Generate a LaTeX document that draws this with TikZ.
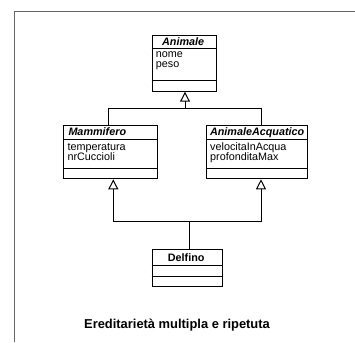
\documentclass[tikz,border=0pt]{standalone}
\usepackage{fontspec}
\setmainfont{Liberation Sans}
\usetikzlibrary{arrows.meta,calc}
\begin{document}
\begin{tikzpicture}[x=1pt,y=-1pt,
  cls/.style={draw,line width=1pt,inner sep=0pt,anchor=north west},
  clsname/.style={anchor=base,inner sep=0pt,font=\fontsize{10.8}{12}\selectfont\bfseries\itshape},
  clsplain/.style={anchor=base,inner sep=0pt,font=\fontsize{10.8}{12}\selectfont\bfseries},
  attr/.style={anchor=base west,inner sep=0pt,font=\fontsize{10.8}{12}\selectfont},
  div/.style={line width=1pt},
  conn/.style={line width=1pt},
  inh/.style={conn,-{Triangle[open,length=10pt,width=10pt]}},
  frame/.style={line width=1.3pt,draw=black!60}]
\useasboundingbox (0,0) rectangle (355,342);
% frame (only left and top visible)
\coordinate (fr-bl) at (14.7,342);
\coordinate (fr-tl) at (14.7,11.5);
\coordinate (fr-tr) at (355,11.5);
\draw[frame] (fr-bl) -- (fr-tl) -- (fr-tr);

% Animale
\node[cls,minimum width=64pt,minimum height=55.7pt] (animale) at (151.7,35) {};
\draw[div] ($(animale.north west)+(0,13.5)$) -- ($(animale.north east)+(0,13.5)$);
\draw[div] ($(animale.north west)+(0,45.7)$) -- ($(animale.north east)+(0,45.7)$);
\node[clsname] (animale-n) at ($(animale.north)+(-1,10.6)$) {Animale};
\node[attr] (animale-a1) at ($(animale.north west)+(4,22.5)$) {nome};
\node[attr] (animale-a2) at ($(animale.north west)+(4,32.5)$) {peso};

% Mammifero
\node[cls,minimum width=93.4pt,minimum height=53.8pt] (mamm) at (63.3,124.5) {};
\draw[div] ($(mamm.north west)+(0,14.5)$) -- ($(mamm.north east)+(0,14.5)$);
\draw[div] ($(mamm.north west)+(0,43.8)$) -- ($(mamm.north east)+(0,43.8)$);
\node[clsname,anchor=base west] (mamm-n) at ($(mamm.north west)+(5,11)$) {Mammifero};
\node[attr] (mamm-a1) at ($(mamm.north west)+(4,25.5)$) {temperatura};
\node[attr] (mamm-a2) at ($(mamm.north west)+(4,35.8)$) {nrCuccioli};

% AnimaleAcquatico
\node[cls,minimum width=101.3pt,minimum height=53.8pt] (aa) at (206,124.5) {};
\draw[div] ($(aa.north west)+(0,14.5)$) -- ($(aa.north east)+(0,14.5)$);
\draw[div] ($(aa.north west)+(0,43.8)$) -- ($(aa.north east)+(0,43.8)$);
\node[clsname] (aa-n) at ($(aa.north)+(0,11)$) {AnimaleAcquatico};
\node[attr] (aa-a1) at ($(aa.north west)+(4,25.5)$) {velocitaInAcqua};
\node[attr] (aa-a2) at ($(aa.north west)+(4,35.8)$) {profonditaMax};

% Delfino
\node[cls,minimum width=70pt,minimum height=36.7pt] (delfino) at (151.7,249.3) {};
\draw[div] ($(delfino.north west)+(0,16.2)$) -- ($(delfino.north east)+(0,16.2)$);
\draw[div] ($(delfino.north west)+(0,27.2)$) -- ($(delfino.north east)+(0,27.2)$);
\node[clsplain] (delfino-n) at ($(delfino.north)+(-1,11.8)$) {Delfino};

% connectors
\coordinate (xm) at (108,0);
\coordinate (xa) at (261,0);
\coordinate (xd) at (189.5,0);
\coordinate (bus1) at (185,108.3);
\coordinate (bus2l) at (113.3,221.7);
\coordinate (bus2r) at (261,221.7);
\draw[inh] (mamm.north -| xm) |- (bus1) -- (animale.south -| bus1);
\draw[conn] (aa.north -| xa) |- (bus1);
\draw[inh] (delfino.north -| xd) |- (bus2l) -- (mamm.south -| bus2l);
\draw[inh] (delfino.north -| xd) |- (bus2r) -- (aa.south -| bus2r);

% caption
\node[anchor=base,inner sep=0pt,font=\fontsize{12.9}{15}\selectfont\bfseries] (caption) at (177,328) {Ereditarietà multipla e ripetuta};
\end{tikzpicture}
\end{document}
